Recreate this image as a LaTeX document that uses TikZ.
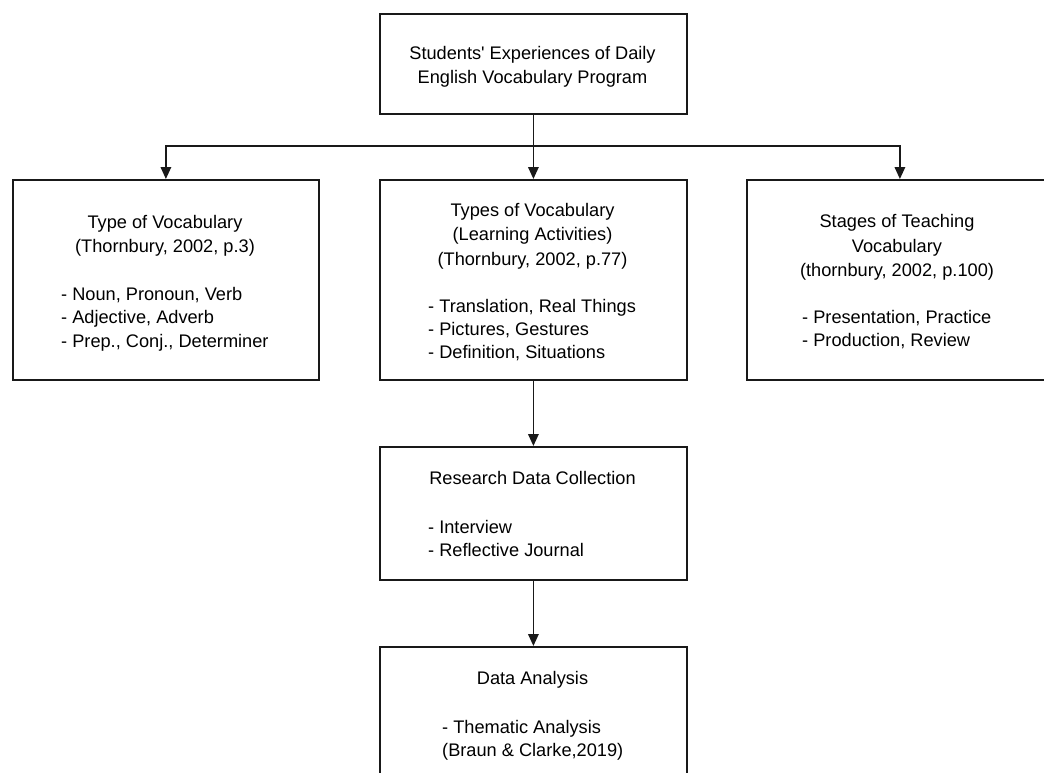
\documentclass[tikz,border=0pt]{standalone}
\usepackage{fontspec}
\newfontfamily\lsans{Liberation Sans}
\usetikzlibrary{arrows.meta}
\tikzset{
  box/.style={draw=black!90, line width=1.8pt, inner sep=0pt, anchor=north west},
  lbl/.style={inner sep=0pt, font=\lsans\fontsize{18.2}{23.5}\selectfont, text=black},
  ctr/.style={lbl, anchor=base},
  lft/.style={lbl, anchor=base west},
  arr/.style={draw=black!90, line width=1.7pt, -{Triangle[length=12pt,width=10.5pt]}},
}
\begin{document}
\begin{tikzpicture}[x=1pt,y=-1pt]
\clip (0,0) rectangle (1044,772);
\fill[white] (0,0) rectangle (1044,772);
% boxes
\node[box, minimum width=307pt, minimum height=100pt] (top) at (379,13) {};
\node[box, minimum width=306pt, minimum height=200pt] (left) at (12,179) {};
\node[box, minimum width=307pt, minimum height=200pt] (mid) at (379,179) {};
\node[box, minimum width=306pt, minimum height=200pt] (right) at (746,179) {};
\node[box, minimum width=307pt, minimum height=133pt] (res) at (379,446) {};
\node[box, minimum width=307pt, minimum height=160pt] (data) at (379,646) {};
% connectors
\coordinate (bus) at (532.5,146);
\draw[arr] (top.south) -- (mid.north);
\draw[arr] (bus) -| (left.north);
\draw[arr] (bus) -| (right.north);
\draw[arr] (mid.south) -- (res.north);
\draw[arr] (res.south) -- (data.north);
% top text
\node[ctr] (t1) at (532.5,59) {Students' Experiences of Daily};
\node[ctr] (t2) at (532.5,83) {English Vocabulary Program};
% left text
\node[ctr] (l1) at (165,228) {Type of Vocabulary};
\node[ctr] (l2) at (165,252) {(Thornbury, 2002, p.3)};
\node[lft] (l3) at (61,300) {- Noun, Pronoun, Verb};
\node[lft] (l4) at (61,323.5) {- Adjective, Adverb};
\node[lft] (l5) at (61,347) {- Prep., Conj., Determiner};
% middle text
\node[ctr] (m1) at (532.5,216) {Types of Vocabulary};
\node[ctr] (m2) at (532.5,240.5) {(Learning Activities)};
\node[ctr] (m3) at (532.5,265) {(Thornbury, 2002, p.77)};
\node[lft] (m4) at (428,312) {- Translation, Real Things};
\node[lft] (m5) at (428,335) {- Pictures, Gestures};
\node[lft] (m6) at (428,358) {- Definition, Situations};
% right text
\node[ctr] (r1) at (897,227) {Stages of Teaching};
\node[ctr] (r2) at (897,252) {Vocabulary};
\node[ctr] (r3) at (897,276) {(thornbury, 2002, p.100)};
\node[lft] (r4) at (802,323) {- Presentation, Practice};
\node[lft] (r5) at (802,346) {- Production, Review};
% research text
\node[ctr] (c1) at (532.5,484) {Research Data Collection};
\node[lft] (c2) at (428,533) {- Interview};
\node[lft] (c3) at (428,556) {- Reflective Journal};
% data analysis text
\node[ctr] (d1) at (532.5,684) {Data Analysis};
\node[lft] (d2) at (442,733) {- Thematic Analysis};
\node[lft] (d3) at (442,756) {(Braun \& Clarke,2019)};
\end{tikzpicture}
\end{document}
